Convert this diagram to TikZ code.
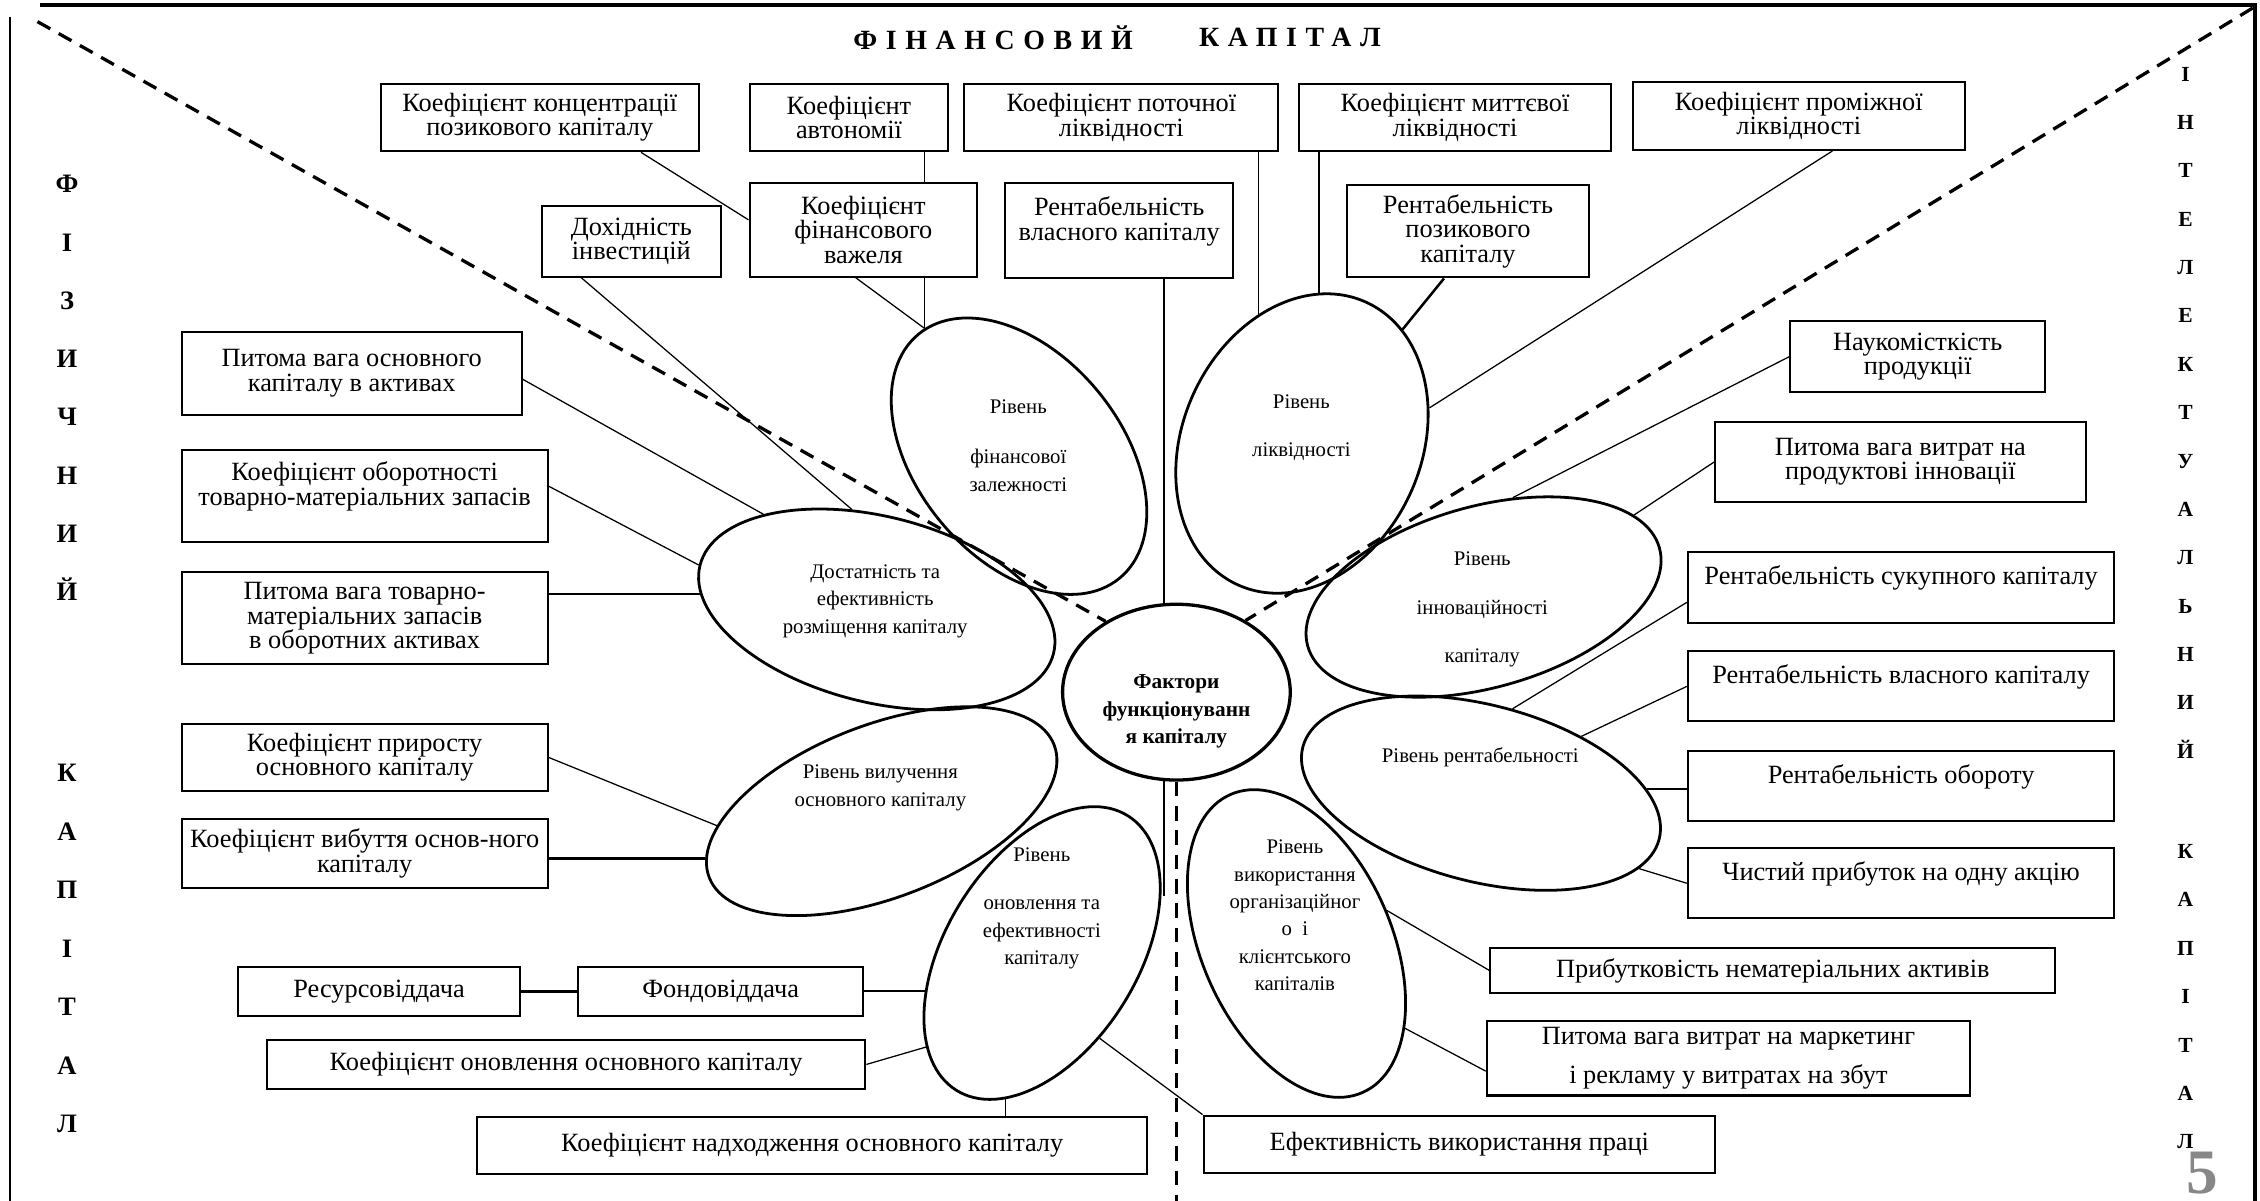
\documentclass[tikz,border=0pt]{standalone}
\usepackage{fontspec}
\setmainfont{Liberation Serif}
\usetikzlibrary{shapes.geometric}
\setlength{\lineskiplimit}{-10pt}

\begin{document}
\begin{tikzpicture}[x=0.02cm, y=-0.02cm]
	% Стилі для блоків, пелюсток і ліній
	\tikzset{
		blok/.style={draw, line width=0.8pt, rectangle, align=center, inner sep=1pt, font=\fontsize{10.4}{9.6}\selectfont},
		pelyustka/.style={draw, ellipse, line width=1.1pt, inner sep=0pt},
		ptekst/.style={align=center, inner sep=0pt, font=\fontsize{8.2}{10.8}\selectfont},
		zv/.style={line width=0.5pt},
		zvt/.style={line width=1pt},
		shtrykh/.style={line width=1.3pt, dash pattern=on 5.8pt off 3.8pt},
		bukvyL/.style={align=center, inner sep=0pt, font=\fontsize{10.5}{23}\selectfont\bfseries},
		bukvyP/.style={align=center, inner sep=0pt, font=\fontsize{8.5}{19.1}\selectfont\bfseries}
	}
	\useasboundingbox (0,0) rectangle (1568,833);

	% Рамка
	\draw[line width=1.3pt] (28,3.5) -- (1564.6,3.5) -- (1564.6,833);
	\draw[line width=1.05pt] (7,11.6) -- (7,833);

	% Заголовок і бічні написи
	\node[font=\fontsize{11}{13}\selectfont\bfseries\addfontfeatures{LetterSpace=31}] (nazva1) at (689,26) {ФІНАНСОВИЙ};
	\node[font=\fontsize{11}{13}\selectfont\bfseries\addfontfeatures{LetterSpace=31}] (nazva2) at (895,26) {КАПІТАЛ};
	\node[bukvyL] (fiz) at (46.5,269.2) {Ф\\І\\З\\И\\Ч\\Н\\И\\Й};
	\node[bukvyL, font=\fontsize{10.5}{23.1}\selectfont\bfseries] (fizkap) at (46.5,658.2) {К\\А\\П\\І\\Т\\А\\Л};
	\node[bukvyP] (int) at (1516.3,286.3) {І\\Н\\Т\\Е\\Л\\Е\\К\\Т\\У\\А\\Л\\Ь\\Н\\И\\Й};
	\node[bukvyP] (intkap) at (1516.3,691.5) {К\\А\\П\\І\\Т\\А\\Л};
	\node[inner sep=0pt, font=\fontsize{25}{25}\selectfont\bfseries, text=black!47] (nomer) at (1528,814) {5};

	% Верхні блоки
	\node[blok, minimum width=4.42cm, minimum height=0.94cm] (kk) at (374.5,81.5) {Коефіцієнт концентрації\\позикового капіталу};
	\node[blok, minimum width=2.76cm, minimum height=0.94cm] (ka) at (589,81.5) {Коефіцієнт\\автономії};
	\node[blok, minimum width=4.36cm, minimum height=0.94cm] (kp) at (778,81.5) {Коефіцієнт поточної\\ліквідності};
	\node[blok, minimum width=4.34cm, minimum height=0.94cm] (km) at (1009.5,81.5) {Коефіцієнт миттєвої\\ліквідності};
	\node[blok, minimum width=4.6cm, minimum height=0.94cm] (kpr) at (1248,80.5) {Коефіцієнт проміжної\\ліквідності};
	\node[blok, minimum width=2.48cm, minimum height=0.98cm] (di) at (438,167.5) {Дохідність\\інвестицій};
	\node[blok, minimum width=3.16cm, minimum height=1.3cm] (kf) at (599,159.5) {Коефіцієнт\\фінансового\\важеля};
	\node[blok, minimum width=3.16cm, minimum height=1.31cm] (rv) at (776.5,160) {Рентабельність\\власного капіталу\\ \mbox{}};
	\node[blok, minimum width=3.36cm, minimum height=1.28cm] (rp) at (1018.5,160.5) {Рентабельність\\позикового\\капіталу};

	% Ліві блоки
	\node[blok, minimum width=4.72cm, minimum height=1.16cm] (pv) at (244,259) {Питома вага основного\\капіталу в активах};
	\node[blok, minimum width=5.08cm, minimum height=1.28cm] (ko) at (253,344) {Коефіцієнт оборотності\\товарно-матеріальних запасів\\ \mbox{}};
	\node[blok, minimum width=5.08cm, minimum height=1.28cm] (pt) at (253,429) {Питома вага товарно-\\матеріальних запасів\\в оборотних активах};
	\node[blok, minimum width=5.08cm, minimum height=0.94cm] (kpo) at (253,525.5) {Коефіцієнт приросту\\основного капіталу};
	\node[blok, minimum width=5.08cm, minimum height=0.96cm] (kv) at (253,592) {Коефіцієнт вибуття основ-ного\\капіталу};
	\node[blok, minimum width=3.92cm, minimum height=0.68cm] (rs) at (263,688) {Ресурсовіддача};
	\node[blok, minimum width=3.96cm, minimum height=0.68cm] (fv) at (500,688) {Фондовіддача};
	\node[blok, minimum width=8.31cm, minimum height=0.68cm] (kon) at (392.7,738.5) {Коефіцієнт оновлення основного капіталу};
	\node[blok, minimum width=9.3cm, minimum height=0.79cm] (kn) at (563.5,794.8) {Коефіцієнт надходження основного капіталу};

	% Праві блоки
	\node[blok, minimum width=3.54cm, minimum height=0.98cm] (nk) at (1330.5,247.5) {Наукомісткість\\продукції};
	\node[blok, minimum width=5.14cm, minimum height=1.1cm] (pi) at (1318.5,320.5) {Питома вага витрат на\\продуктові інновації};
	\node[blok, minimum width=5.92cm, minimum height=0.98cm] (rsk) at (1319,407.5) {Рентабельність сукупного капіталу\\ \mbox{}};
	\node[blok, minimum width=5.92cm, minimum height=0.97cm] (rvk) at (1319,476.2) {Рентабельність власного капіталу\\ \mbox{}};
	\node[blok, minimum width=5.92cm, minimum height=0.97cm] (ro) at (1319,545.2) {Рентабельність обороту\\ \mbox{}};
	\node[blok, minimum width=5.92cm, minimum height=0.97cm] (ch) at (1319,612.8) {Чистий прибуток на одну акцію\\ \mbox{}};
	\node[blok, minimum width=7.84cm, minimum height=0.63cm] (pn) at (1230,673.3) {Прибутковість нематеріальних активів};
	\node[blok, minimum width=6.71cm, minimum height=1.03cm] (pm) at (1199.2,734.3) {Питома вага витрат на маркетинг\\[5.7pt]і рекламу у витратах на збут};
	\node[blok, minimum width=7.1cm, minimum height=0.8cm] (ep) at (1012.5,794) {Ефективність використання праці};

	% Пелюстки навколо центру
	\node[pelyustka, minimum width=4.388cm, minimum height=2.836cm, rotate=-50.5] (fin) at (707,316.5) {};
	\node[pelyustka, minimum width=4.308cm, minimum height=3.312cm, rotate=65.6] (likv) at (903.3,307.7) {};
	\node[pelyustka, minimum width=5.056cm, minimum height=2.58cm, rotate=-14] (dost) at (608.3,422.8) {};
	\node[pelyustka, minimum width=5.128cm, minimum height=2.4cm, rotate=21] (vyl) at (611.7,562.8) {};
	\node[pelyustka, minimum width=4.492cm, minimum height=2.66cm, rotate=58] (onov) at (723,661.2) {};
	\node[pelyustka, minimum width=5.068cm, minimum height=2.516cm, rotate=15.6] (inn) at (1029.3,414.2) {};
	\node[pelyustka, minimum width=5.108cm, minimum height=2.452cm, rotate=-14.5] (rent) at (1027.5,550.3) {};
	\node[pelyustka, minimum width=4.524cm, minimum height=2.632cm, rotate=-66] (org) at (899.5,654.6) {};
	\node[draw, ellipse, line width=1.3pt, inner sep=0pt, minimum width=3.16cm, minimum height=2.44cm] (fakt) at (816.2,480.2) {};

	% Написи в пелюстках
	\node[ptekst] (finT) at (706.5,309.3) {Рівень\\[9pt]фінансової\\залежності};
	\node[ptekst] (likvT) at (902.9,296.7) {Рівень\\[8.4pt]ліквідності};
	\node[ptekst] (dostT) at (607.2,417) {Достатність та\\ефективність\\розміщення капіталу};
	\node[ptekst] (vylT) at (610.8,546.5) {Рівень вилучення\\основного капіталу};
	\node[ptekst] (onovT) at (722.8,630) {Рівень\\[8.4pt]оновлення та\\ефективності\\капіталу};
	\node[ptekst] (innT) at (1028.4,422.8) {Рівень\\[8.4pt]інноваційності\\[8.4pt]капіталу};
	\node[ptekst] (rentT) at (1027,525.7) {Рівень рентабельності};
	\node[ptekst] (orgT) at (898.4,635) {Рівень\\використання\\організаційног\\о\enspace і\\клієнтського\\капіталів};
	\node[ptekst, font=\fontsize{8.4}{10.9}\selectfont\bfseries] (faktT) at (816.2,493.7) {Фактори\\функціонуванн\\я капіталу};

	% Зв'язки верхніх блоків
	\draw[zv] (kk.341) -- (kf.175);
	\draw[zv] (ka.south -| fin.177) -- (kf.north -| fin.177);
	\draw[zv] (kf.south -| fin.177) -- (fin.177);
	\draw[zv] (kf.261) -- (fin.177);
	\draw[zvt] (rv.south -| fakt.98) -- (fakt.98);
	\draw[zv] (kp.south -| likv.43) -- (likv.43);
	\draw[zv] (km.south -| likv.18) -- (likv.18);
	\draw[zvt] (rp.243) -- (likv.343);
	\draw[zv] (kpr.314) -- (likv.310);

	% Зв'язки лівих блоків
	\draw[zv] (di.216) -- (dost.118);
	\draw[zv] (pv.358) -- (dost.154);
	\draw[zv] (ko.3) -- (dost.180);
	\draw[zvt] (dost.189) -- (dost.189 -| pt.east);
	\draw[zv] (kpo.east) -- (vyl.164);
	\draw[zvt] (vyl.174) -- (vyl.174 -| kv.east);
	\draw[zvt] (rs.east) -- (fv.west);
	\draw[zvt] (onov.140 -| fv.east) -- (onov.140);
	\draw[zv] (kon.east) -- (onov.161);
	\draw[zv] (onov.198) -- (onov.198 |- kn.north);
	\draw[zv] (onov.246) -- (ep.north west);

	% Зв'язки правих блоків
	\draw[zv] (nk.west) -- (inn.58);
	\draw[zv] (pi.west) -- (inn.13);
	\draw[zv] (rsk.184) -- (rent.84);
	\draw[zv] (rvk.west) -- (rent.44);
	\draw[zvt] (rent.16) -- (rent.16 -| ro.west);
	\draw[zv] (ch.west) -- (rent.349);
	\draw[zv] (pn.west) -- (org.86);
	\draw[zv] (pm.183) -- (org.28);

	% Центральна вісь і штрихові межі
	\coordinate (kutl) at (26,15);
	\coordinate (kutp) at (1563,5.5);
	\coordinate (niz) at (816.2,833);
	\coordinate (stebl) at (808.1,621.5);
	\draw[zvt] (fakt.262) -- (fakt.262 |- stebl);
	\draw[shtrykh] (kutl) -- (fakt.135);
	\draw[shtrykh] (kutp) -- (fakt.46);
	\draw[shtrykh] (fakt.south) -- (niz);
\end{tikzpicture}
\end{document}
